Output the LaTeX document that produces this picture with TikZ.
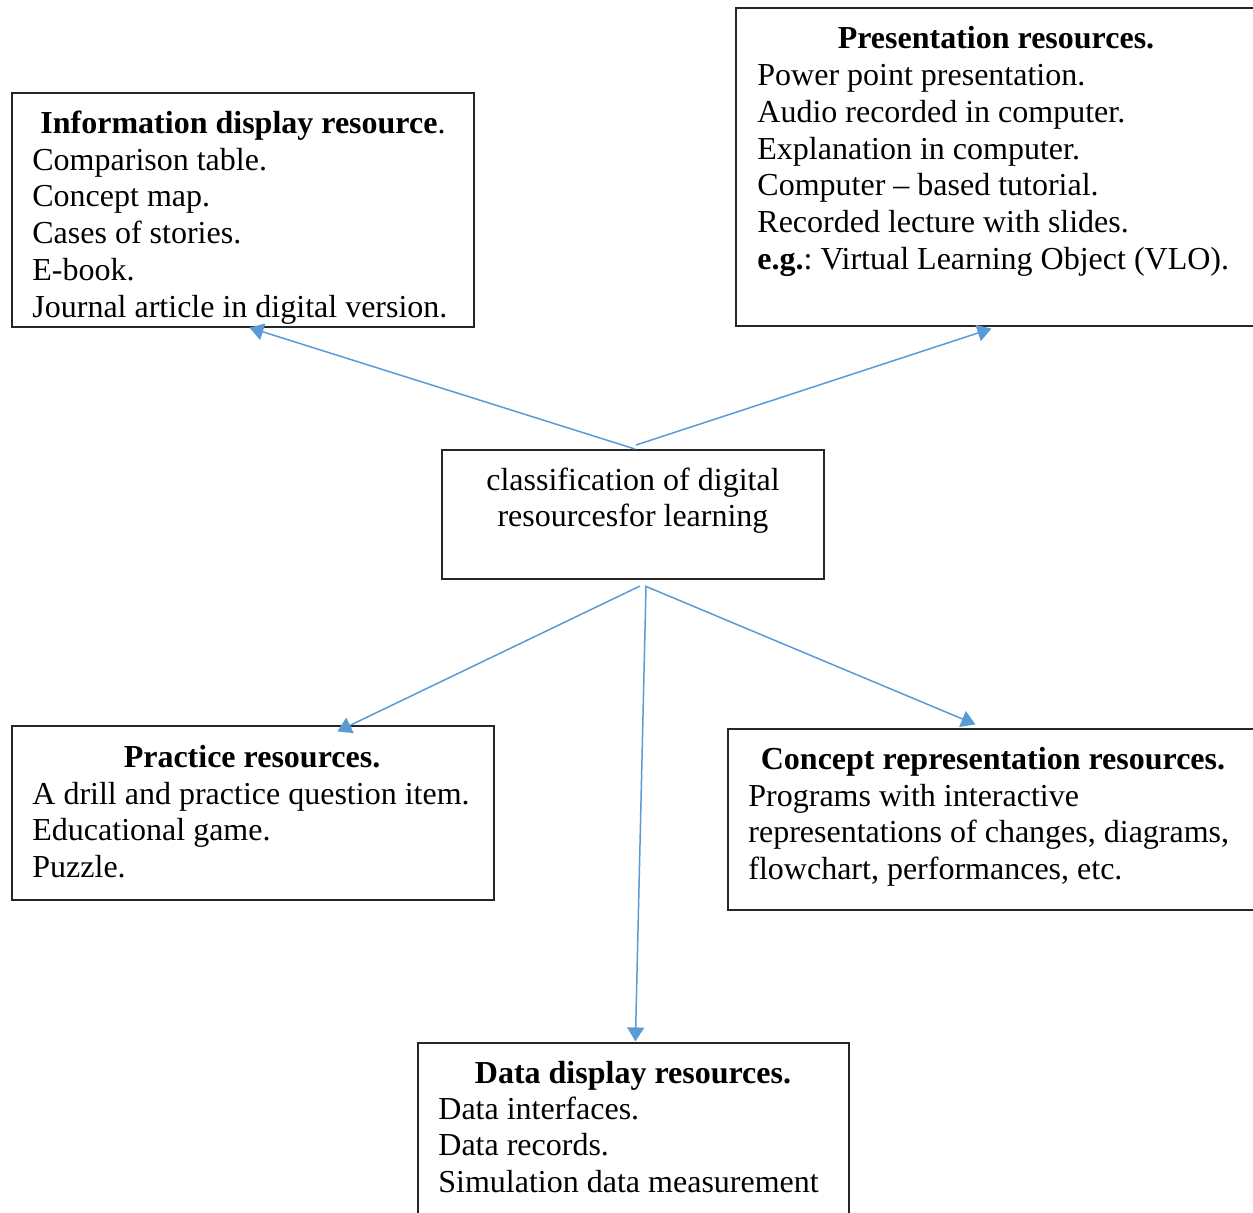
\documentclass[tikz,border=0pt]{standalone}
\usepackage{fontspec}
\setmainfont{Liberation Serif}
\usetikzlibrary{arrows.meta,fit,calc}
\definecolor{arr}{RGB}{91,155,213}
\newcommand{\nsp}{\frenchspacing\spaceskip=0pt\xspaceskip=0pt\relax}
\begin{document}
\begin{tikzpicture}[x=0.5pt,y=-0.5pt,
  box/.style={draw=black!85,line width=0.6pt,inner sep=0pt},
  ttl/.style={font=\fontsize{16}{18.4}\selectfont\bfseries,anchor=base,inner sep=0pt},
  body/.style={font=\fontsize{16}{18.4}\selectfont,anchor=base west,inner sep=0pt,text width=262pt,align=left},
  ctr/.style={font=\fontsize{16}{18}\selectfont,anchor=base,inner sep=0pt,align=center},
  conn/.style={draw=arr,line width=0.75pt,-{Triangle[width=8.5pt,length=7pt]}}]
\useasboundingbox (0,0) rectangle (1253,1212);

% boxes
\node[box,fit={(12,93) (474,327)}] (info) {};
\node[box,fit={(736,8) (1260,326)}] (pres) {};
\node[box,fit={(442,450) (824,579)}] (cls) {};
\node[box,fit={(12,726) (494,900)}] (prac) {};
\node[box,fit={(728,729) (1260,910)}] (conc) {};
\node[box,fit={(418,1043) (849,1222)}] (data) {};

% texts
\node[ttl] (infoT) at (243,133) {Information display resource\mdseries.};
\node[body] (infoB) at (32,170) {\nsp Comparison table.\\Concept map.\\Cases of stories.\\E-book.\\Journal article in digital version.};

\node[ttl] (presT) at (996,48) {Presentation resources.};
\node[body] (presB) at (757,85.5) {\nsp Power point presentation.\\Audio recorded in computer.\\Explanation in computer.\\Computer – based tutorial.\\Recorded lecture with slides.\\\textbf{e.g.}: Virtual Learning Object (VLO).};

\node[ctr] (clsT) at (633,526) {classification of digital\\resourcesfor learning};

\node[ttl] (pracT) at (252,767) {Practice resources.};
\node[body] (pracB) at (32,804) {\nsp A drill and practice question item.\\Educational game.\\Puzzle.};

\node[ttl] (concT) at (993,769) {Concept representation resources.};
\node[body] (concB) at (748,806) {\nsp Programs with interactive\\representations of changes, diagrams,\\flowchart, performances, etc.};

\node[ttl] (dataT) at (633,1083) {Data display resources.};
\node[body] (dataB) at (438,1119) {\nsp Data interfaces.\\Data records.\\Simulation data measurement};

% connector start points
\coordinate (s1) at (635,449);
\coordinate (s2) at (636,445);
\coordinate (s3) at (640,586);
\coordinate (s4) at (646,587);
\coordinate (s5) at (645,586);

\draw[conn] (s1) -- ($(info.south west)+(238,0)$);
\draw[conn] (s2) -- ($(pres.south west)+(256,2)$);
\draw[conn] (s3) -- ($(prac.north west)+(326,6)$);
\draw[conn] (s4) -- ($(data.north west)+(218,-1)$);
\draw[conn] (s5) -- ($(conc.north west)+(248,-4)$);
\end{tikzpicture}
\end{document}
